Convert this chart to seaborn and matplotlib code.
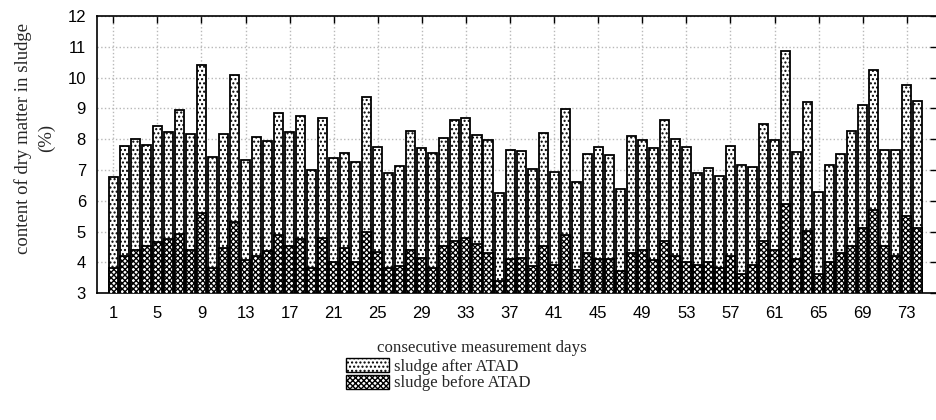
import seaborn as sns
import matplotlib.pyplot as plt
import matplotlib.patches as mpatches

days = list(range(1, 75))
after_atad = [6.78, 7.78, 8.00, 7.81, 8.43, 8.25, 8.95, 8.17, 10.40, 7.42,
              8.16, 10.08, 7.32, 8.06, 7.94, 8.85, 8.23, 8.76, 7.00, 8.70,
              7.40, 7.55, 7.26, 9.36, 7.75, 6.91, 7.13, 8.28, 7.73, 7.56,
              8.05, 8.61, 8.68, 8.15, 7.97, 6.27, 7.64, 7.62, 7.02, 8.19,
              6.93, 8.97, 6.60, 7.53, 7.74, 7.48, 6.40, 8.09, 7.98, 7.72,
              8.61, 8.02, 7.74, 6.89, 7.06, 6.80, 7.77, 7.15, 7.11, 8.50,
              7.97, 10.88, 7.57, 9.20, 6.28, 7.17, 7.53, 8.28, 9.10, 10.26,
              7.64, 7.64, 9.76, 9.24]
before_atad = [3.81, 4.21, 4.41, 4.52, 4.68, 4.76, 4.92, 4.41, 5.61, 3.81,
               4.46, 5.31, 4.07, 4.21, 4.36, 4.90, 4.52, 4.77, 3.81, 4.81,
               4.01, 4.46, 4.01, 5.00, 4.35, 3.81, 3.90, 4.41, 4.16, 3.81,
               4.52, 4.70, 4.81, 4.60, 4.32, 3.40, 4.11, 4.16, 3.88, 4.52,
               3.91, 4.90, 3.77, 4.31, 4.11, 4.11, 3.71, 4.31, 4.41, 4.07,
               4.71, 4.21, 4.01, 3.91, 4.01, 3.82, 4.21, 3.63, 3.91, 4.71,
               4.41, 5.90, 4.11, 5.01, 3.63, 4.02, 4.31, 4.52, 5.11, 5.71,
               4.52, 4.21, 5.51, 5.11]
tick_days = days[::4]

sns.set_style('white')
plt.rcParams['hatch.linewidth'] = 1.0
sans = 'Liberation Sans'
serif = 'Liberation Serif'

fig = plt.figure(figsize=(9.36, 4.2), dpi=100)
ax = fig.add_axes([97 / 936, 1 - 293.3 / 420, 840 / 936, 277.3 / 420])

bw = 0.82
sns.barplot(x=days, y=after_atad, color='white', edgecolor='black',
            linewidth=1.3, width=bw, ax=ax, zorder=2)
n_after = len(ax.patches)
sns.barplot(x=days, y=before_atad, color='white', edgecolor='black',
            linewidth=1.3, width=bw, ax=ax, zorder=3)
for i, p in enumerate(ax.patches):
    p.set_hatch('....' if i < n_after else 'xxxxxx')

ax.set_xlim(-1.48, 74.74)
ax.set_ylim(3, 12)
ax.set_yticks(range(3, 13))
ax.set_xticks([d - 1 for d in tick_days])
ax.set_xticklabels([str(d) for d in tick_days])
ax.set_xlabel('')
ax.set_ylabel('')

ax.grid(True, color='#b8b8b8', linestyle=':', linewidth=1.0)
ax.set_axisbelow(True)
for s in ax.spines.values():
    s.set_color('black')
    s.set_linewidth(1.2)
ax.tick_params(axis='both', direction='in', length=5, width=1.0,
               top=True, right=True, colors='black')
ax.tick_params(axis='x', pad=9.5, bottom=False)
ax.tick_params(axis='y', pad=8)
for lab in ax.get_xticklabels() + ax.get_yticklabels():
    lab.set_fontfamily(sans)
    lab.set_fontsize(12)

ax.set_ylabel('content of dry matter in sludge\n(%)', family=serif,
              fontsize=13.5, linespacing=1.4)
ax.yaxis.set_label_coords(-0.05, 0.56)

fig.text(482 / 936, 1 - 348 / 420, 'consecutive measurement days',
         family=serif, fontsize=12.2, ha='center', va='center')

handles = [mpatches.Patch(facecolor='white', edgecolor='black', hatch='....',
                          linewidth=1.0, label='sludge after ATAD'),
           mpatches.Patch(facecolor='white', edgecolor='black', hatch='xxxxxx',
                          linewidth=1.0, label='sludge before ATAD')]
fig.legend(handles=handles, loc='upper left',
           bbox_to_anchor=(346 / 936, 1 - 358 / 420), frameon=False,
           prop={'family': serif, 'size': 12}, handlelength=2.6,
           handleheight=0.9, labelspacing=0.0, handletextpad=0.3,
           borderpad=0, borderaxespad=0)

fig.savefig('out.png', dpi=100)
